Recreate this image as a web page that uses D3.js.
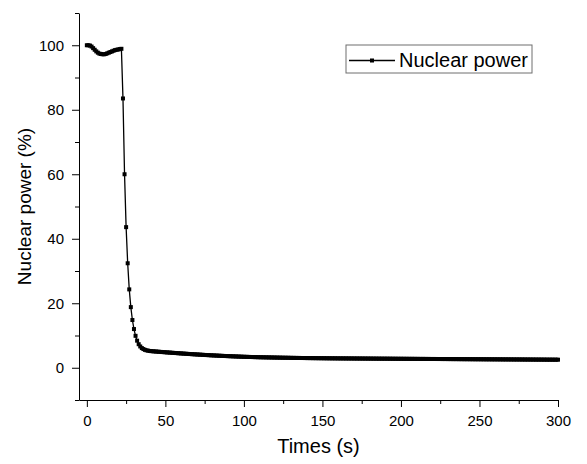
<!DOCTYPE html>
<html>
<head>
<meta charset="utf-8">
<script src="https://cdn.jsdelivr.net/npm/d3@7"></script>
<style>
    body { margin: 0; background: #fff; }
    svg { display: block; font-family: "Liberation Sans", Arial, sans-serif; }
</style>
</head>
<body>
<div class="canvas"></div>
<script>
// Sampling step of the record (s)
const timeStep = 1;

// Nuclear power (%) read every second from t = 0 to t = 300 s
const powerValues = [
    // 0 - 22: before the scram
    100.0, 100.0, 99.9, 99.6, 99.1, 98.6, 98.1, 97.7, 97.4, 97.3,
    97.2, 97.2, 97.3, 97.5, 97.7, 97.9, 98.1, 98.3, 98.5, 98.6,
    98.7, 98.8, 98.9,
    // 23 - 39: fast drop
    83.5, 60.0, 43.6, 32.4, 24.3, 18.8, 14.8, 12.0, 9.9, 8.4,
    7.3, 6.6, 6.1, 5.8, 5.55, 5.4, 5.3,
    // 40 - 300: decay heat tail
    5.20, 5.15, 5.11, 5.07, 5.03, 4.99, 4.95, 4.91, 4.87, 4.84,
    4.80, 4.76, 4.73, 4.69, 4.65, 4.62, 4.58, 4.55, 4.51, 4.48,
    4.44, 4.41, 4.37, 4.34, 4.31, 4.27, 4.24, 4.21, 4.18, 4.15,
    4.12, 4.09, 4.06, 4.03, 4.00, 3.97, 3.94, 3.92, 3.89, 3.86,
    3.84, 3.81, 3.79, 3.76, 3.74, 3.71, 3.69, 3.67, 3.64, 3.62,
    3.60, 3.58, 3.56, 3.54, 3.52, 3.50, 3.48, 3.46, 3.44, 3.42,
    3.40, 3.39, 3.37, 3.36, 3.34, 3.33, 3.31, 3.30, 3.29, 3.27,
    3.26, 3.25, 3.24, 3.23, 3.22, 3.21, 3.20, 3.19, 3.18, 3.17,
    3.16, 3.15, 3.14, 3.13, 3.12, 3.11, 3.10, 3.10, 3.09, 3.08,
    3.07, 3.06, 3.06, 3.05, 3.04, 3.04, 3.03, 3.02, 3.02, 3.01,
    3.00, 3.00, 2.99, 2.99, 2.98, 2.98, 2.97, 2.97, 2.96, 2.96,
    2.95, 2.95, 2.94, 2.94, 2.93, 2.93, 2.92, 2.92, 2.92, 2.91,
    2.91, 2.90, 2.90, 2.90, 2.89, 2.89, 2.89, 2.88, 2.88, 2.88,
    2.87, 2.87, 2.87, 2.86, 2.86, 2.86, 2.85, 2.85, 2.85, 2.84,
    2.84, 2.84, 2.83, 2.83, 2.83, 2.82, 2.82, 2.82, 2.81, 2.81,
    2.81, 2.81, 2.80, 2.80, 2.80, 2.79, 2.79, 2.79, 2.78, 2.78,
    2.78, 2.78, 2.77, 2.77, 2.77, 2.76, 2.76, 2.76, 2.76, 2.75,
    2.75, 2.75, 2.74, 2.74, 2.74, 2.74, 2.73, 2.73, 2.73, 2.72,
    2.72, 2.72, 2.72, 2.71, 2.71, 2.71, 2.70, 2.70, 2.70, 2.70,
    2.69, 2.69, 2.69, 2.68, 2.68, 2.68, 2.68, 2.67, 2.67, 2.67,
    2.66, 2.66, 2.66, 2.66, 2.65, 2.65, 2.65, 2.64, 2.64, 2.64,
    2.64, 2.63, 2.63, 2.63, 2.62, 2.62, 2.62, 2.62, 2.61, 2.61,
    2.61, 2.61, 2.60, 2.60, 2.60, 2.59, 2.59, 2.59, 2.59, 2.58,
    2.58, 2.58, 2.57, 2.57, 2.57, 2.57, 2.56, 2.56, 2.56, 2.55,
    2.55, 2.55, 2.55, 2.54, 2.54, 2.54, 2.53, 2.53, 2.53, 2.53,
    2.52, 2.52, 2.52, 2.51, 2.51, 2.51, 2.51, 2.50, 2.50, 2.50,
    2.50
];

// Tick labels
const xTicks = [0, 50, 100, 150, 200, 250, 300];
const xMinorTicks = [25, 75, 125, 175, 225, 275];
const yTicks = [0, 20, 40, 60, 80, 100];
const yMinorTicks = [-10, 10, 30, 50, 70, 90, 110];

const seriesName = 'Nuclear power';
const xTitle = 'Times (s)';
const yTitle = 'Nuclear power (%)';

const chart = {
    width: 587,
    height: 464,
    left: 79,
    right: 558,
    top: 13,
    bottom: 400,
    svg: null,

    init: function() {
        const data = powerValues.map((v, i) => ({ t: i * timeStep, p: v }));

        chart.svg = d3.select('.canvas')
            .append('svg')
            .attr('width', chart.width)
            .attr('height', chart.height);

        const x = d3.scaleLinear().domain([-5, 300]).range([chart.left, chart.right]);
        const y = d3.scaleLinear().domain([-10, 110]).range([chart.bottom, chart.top]);

        chart.drawAxes(x, y);

        // Line with square markers
        const line = d3.line()
            .x(d => x(d.t))
            .y(d => y(d.p));

        chart.svg.append('path')
            .datum(data)
            .attr('fill', 'none')
            .attr('stroke', '#000')
            .attr('stroke-width', 1.3)
            .attr('d', line);

        const m = 4;
        chart.svg.append('g')
            .selectAll('rect')
            .data(data)
            .enter()
            .append('rect')
                .attr('x', d => x(d.t) - m / 2)
                .attr('y', d => y(d.p) - m / 2)
                .attr('width', m)
                .attr('height', m)
                .attr('fill', '#000');

        chart.drawLegend();
    },

    drawAxes: function(x, y) {
        const styleAxis = g => {
            g.selectAll('path, line').attr('stroke', '#000').attr('stroke-width', 1);
            g.selectAll('text')
                .attr('fill', '#000')
                .style('font-size', '15px')
                .style('font-family', '"Liberation Sans", Arial, sans-serif');
        };

        // Bottom axis
        chart.svg.append('g')
            .attr('transform', `translate(0, ${chart.bottom})`)
            .call(d3.axisBottom(x).tickValues(xMinorTicks).tickSize(4).tickSizeOuter(0).tickFormat(''))
            .call(g => g.select('.domain').remove())
            .call(styleAxis);

        chart.svg.append('g')
            .attr('transform', `translate(0, ${chart.bottom})`)
            .call(d3.axisBottom(x).tickValues(xTicks).tickSize(7).tickSizeOuter(0).tickPadding(8))
            .call(styleAxis);

        // Left axis
        chart.svg.append('g')
            .attr('transform', `translate(${chart.left}, 0)`)
            .call(d3.axisLeft(y).tickValues(yMinorTicks).tickSize(4).tickSizeOuter(0).tickFormat(''))
            .call(g => g.select('.domain').remove())
            .call(styleAxis);

        chart.svg.append('g')
            .attr('transform', `translate(${chart.left}, 0)`)
            .call(d3.axisLeft(y).tickValues(yTicks).tickSize(7).tickSizeOuter(0).tickPadding(8))
            .call(styleAxis);

        // Axis titles
        chart.svg.append('text')
            .attr('x', (chart.left + chart.right) / 2)
            .attr('y', 453)
            .attr('text-anchor', 'middle')
            .style('font-size', '20px')
            .text(xTitle);

        chart.svg.append('text')
            .attr('transform', `translate(31, ${(chart.top + chart.bottom) / 2}) rotate(-90)`)
            .attr('text-anchor', 'middle')
            .style('font-size', '19px')
            .text(yTitle);
    },

    drawLegend: function() {
        const lg = chart.svg.append('g').attr('transform', 'translate(346, 45)');

        lg.append('rect')
            .attr('width', 186)
            .attr('height', 28)
            .attr('fill', '#fff')
            .attr('stroke', '#6e6e6e')
            .attr('stroke-width', 1);

        lg.append('line')
            .attr('x1', 3).attr('x2', 49)
            .attr('y1', 15.5).attr('y2', 15.5)
            .attr('stroke', '#000')
            .attr('stroke-width', 1.3);

        lg.append('rect')
            .attr('x', 26 - 2).attr('y', 15.5 - 2)
            .attr('width', 4).attr('height', 4)
            .attr('fill', '#000');

        lg.append('text')
            .attr('x', 53)
            .attr('y', 22)
            .style('font-size', '20px')
            .text(seriesName);
    }
};

document.addEventListener('DOMContentLoaded', chart.init);
</script>
</body>
</html>
